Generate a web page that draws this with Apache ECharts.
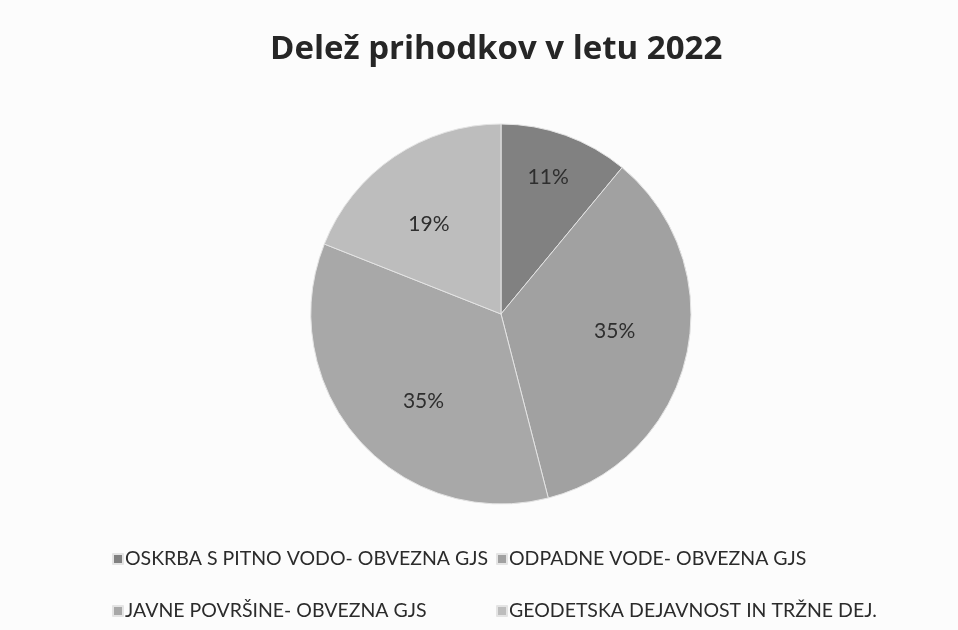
<!DOCTYPE html>
<html>
<head>
<meta charset="utf-8">
<script src="https://cdn.jsdelivr.net/npm/echarts@6/dist/echarts.min.js"></script>
<style>
html,body{margin:0;padding:0;background:#fcfcfc;}
#chart{width:958px;height:630px;}
</style>
</head>
<body>
<div id="chart"></div>
<script>
const titleText = 'Delež prihodkov v letu 2022';
const categories = [
  'OSKRBA S PITNO VODO- OBVEZNA GJS',
  'ODPADNE VODE- OBVEZNA GJS',
  'JAVNE POVRŠINE- OBVEZNA GJS',
  'GEODETSKA DEJAVNOST IN TRŽNE DEJ.'
];
const values = [11, 35, 35, 19];
const colors = ['#818181', '#a1a1a1', '#a8a8a8', '#bdbdbd'];
// label nudges (pixels) to mimic the original "best fit" label placement
const labelOffsets = [[14, -45], [18, -4], [-4, 22], [-17, -9]];
// legend grid: two columns, two rows
const legendCols = [112, 496];
const legendRows = [549, 601];

const chart = echarts.init(document.getElementById('chart'), null, {renderer: 'canvas'});
const font = 'Lato, "Open Sans", sans-serif';

const legendText = {fontFamily: font, fontSize: 19.5, lineHeight: 20, color: '#2b2b2b', padding: [0, 0, 0, -3]};
const option = {
  backgroundColor: '#fcfcfc',
  animation: false,
  color: colors,
  title: {
    text: titleText,
    left: 265,
    top: 28,
    textStyle: {fontFamily: '"Open Sans", Lato, sans-serif', fontSize: 33, fontWeight: 'bold', color: '#262626'}
  },
  legend: categories.map((name, i) => ({
    data: [name],
    orient: 'horizontal',
    left: legendCols[i % 2],
    top: legendRows[Math.floor(i / 2)],
    padding: 0,
    itemWidth: 10, itemHeight: 10,
    icon: 'rect',
    textStyle: legendText
  })),
  series: [{
    type: 'pie',
    center: [501, 314],
    radius: [0, 190],
    startAngle: 90,
    clockwise: true,
    itemStyle: {borderColor: '#e4e4e4', borderWidth: 1},
    label: {
      show: true,
      position: 'inside',
      formatter: p => p.value + '%',
      fontFamily: font, fontSize: 21, color: '#2e2e2e'
    },
    labelLine: {show: false},
    emphasis: {disabled: true},
    data: categories.map((name, i) => ({
      name: name,
      value: values[i],
      label: {offset: labelOffsets[i]}
    }))
  }]
};
chart.setOption(option);
</script>
</body>
</html>
